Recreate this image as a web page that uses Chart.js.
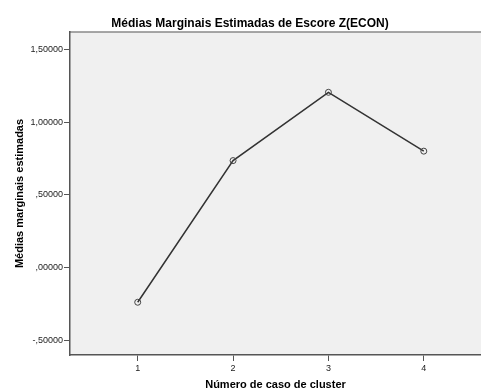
<!DOCTYPE html>
<html>
    <head>
        <title>Médias Marginais Estimadas</title>
        <meta charset="UTF-8">
        <script src="https://cdn.jsdelivr.net/npm/chart.js@4.4.1/dist/chart.umd.min.js"></script>
        <style>
            body { margin: 0; background: #ffffff; }
            #wrap { width: 481px; height: 390px; }
        </style>
    </head>
    <body>
        <div id="wrap">
            <canvas id="marginais" width="481" height="390"></canvas>
        </div>
        <script>
            // clusters e médias estimadas
            const clusters = [1, 2, 3, 4];
            const medias = [-0.24, 0.735, 1.205, 0.80];
            const yTicks = [-0.5, 0, 0.5, 1.0, 1.5];
            const xTicks = [1, 2, 3, 4];

            // formato SPSS: vírgula decimal, sem zero à esquerda
            function fmt(v) {
                return v.toFixed(5).replace('.', ',').replace(/^(-?)0,/, '$1,');
            }

            const plotBg = {
                id: 'plotBg',
                beforeDraw(chart) {
                    const {ctx, chartArea: a} = chart;
                    ctx.save();
                    ctx.fillStyle = '#f0f0f0';
                    ctx.fillRect(a.left, a.top, a.right - a.left, a.bottom - a.top);
                    ctx.strokeStyle = '#8a8a8a';
                    ctx.lineWidth = 1.5;
                    ctx.beginPath();
                    ctx.moveTo(a.left, a.top);
                    ctx.lineTo(a.right, a.top);
                    ctx.stroke();
                    ctx.restore();
                },
                afterDraw(chart) {
                    const ctx = chart.ctx;
                    ctx.save();
                    ctx.font = 'bold 12px "Liberation Sans", Arial, sans-serif';
                    ctx.fillStyle = '#000';
                    ctx.textAlign = 'center';
                    ctx.textBaseline = 'middle';
                    ctx.fillText('Médias Marginais Estimadas de Escore Z(ECON)', 250, 23.5);
                    ctx.restore();
                }
            };

            const ctx = document.getElementById('marginais').getContext('2d');
            const chart = new Chart(ctx, {
                type: 'line',
                data: {
                    datasets: [{
                        data: clusters.map((c, i) => ({x: c, y: medias[i]})),
                        borderColor: '#333333',
                        borderWidth: 1.5,
                        pointRadius: 3,
                        pointBorderWidth: 1,
                        pointBorderColor: '#444444',
                        pointBackgroundColor: 'rgba(0,0,0,0)',
                        tension: 0
                    }]
                },
                options: {
                    responsive: false,
                    animation: false,
                    layout: { autoPadding: false, padding: { top: 32, left: 0, right: 0, bottom: 0 } },
                    plugins: { legend: { display: false }, tooltip: { enabled: false } },
                    scales: {
                        x: {
                            type: 'linear',
                            min: 0.29,
                            max: 4.6,
                            afterBuildTicks: s => { s.ticks = xTicks.map(v => ({value: v})); },
                            afterFit: s => { s.height = 35; },
                            grid: { drawOnChartArea: false, tickLength: 6, tickColor: '#555', tickWidth: 1 },
                            border: { color: '#555', width: 1.5 },
                            ticks: {
                                color: '#222',
                                font: { family: '"Liberation Sans", Arial, sans-serif', size: 9 },
                                padding: 2,
                                callback: v => String(v)
                            },
                            title: {
                                display: true,
                                text: 'Número de caso de cluster',
                                color: '#000',
                                font: { family: '"Liberation Sans", Arial, sans-serif', size: 11, weight: 'bold', lineHeight: 1 },
                                padding: { top: 0, bottom: 0 }
                            }
                        },
                        y: {
                            min: -0.603,
                            max: 1.62,
                            afterBuildTicks: s => { s.ticks = yTicks.map(v => ({value: v})); },
                            afterFit: s => { s.width = 70; },
                            grid: { drawOnChartArea: false, tickLength: 6, tickColor: '#555', tickWidth: 1 },
                            border: { color: '#555', width: 1.5 },
                            ticks: {
                                color: '#222',
                                font: { family: '"Liberation Sans", Arial, sans-serif', size: 9 },
                                padding: 1,
                                callback: v => fmt(v)
                            },
                            title: {
                                display: true,
                                text: 'Médias marginais estimadas',
                                color: '#000',
                                font: { family: '"Liberation Sans", Arial, sans-serif', size: 11, weight: 'bold', lineHeight: 1.2 },
                                padding: { top: 13, bottom: 0 }
                            }
                        }
                    }
                },
                plugins: [plotBg]
            });
        </script>
    </body>
</html>
